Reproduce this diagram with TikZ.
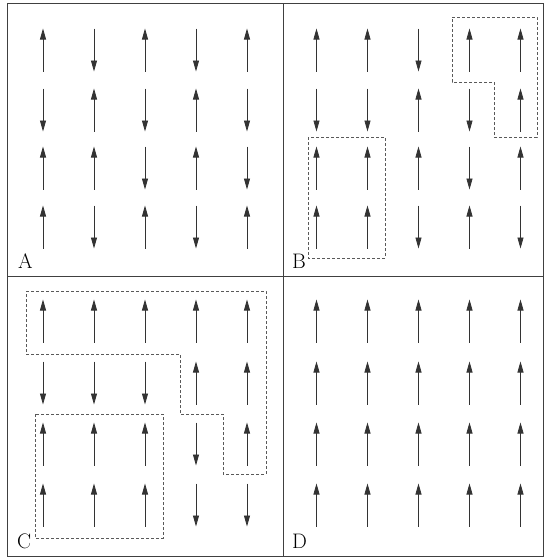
\documentclass[tikz,border=0pt]{standalone}
\usetikzlibrary{arrows.meta}
\newcommand\spinrow[3]{%
  \foreach \d [count=\i from 0] in {#3} {%
    \draw[spinarr] ({#1+\i*51},{#2+\d*21.5}) -- ({#1+\i*51},{#2-\d*21.5});}}
\begin{document}
\begin{tikzpicture}[x=1pt,y=-1pt,
  spinarr/.style={draw=black!80, line width=0.8pt, -{Triangle[length=11pt,width=6pt]}},
  framebox/.style={draw=black!75, line width=0.9pt},
  dombox/.style={draw=black!65, line width=0.8pt, dash pattern=on 3pt off 2pt},
  lab/.style={font=\fontsize{21}{21}\selectfont, inner sep=0pt, anchor=base west}]
\useasboundingbox (0,0) rectangle (545,560);
\fill[white] (0,0) rectangle (545,560);
% frame and dividers
\draw[framebox] (7,3) rectangle (543,556);
\draw[framebox] (283,3) -- (283,556);
\draw[framebox] (7,276) -- (543,276);
% panel A
\spinrow{43}{50}{1,-1,1,-1,1}
\spinrow{43}{110}{-1,1,-1,1,-1}
\spinrow{43}{168}{1,1,-1,1,-1}
\spinrow{43}{227}{1,-1,1,-1,1}
% panel B
\spinrow{316.5}{50}{1,1,-1,1,1}
\spinrow{316.5}{110}{-1,-1,1,-1,1}
\spinrow{316.5}{168}{1,1,1,-1,1}
\spinrow{316.5}{227}{1,1,-1,1,-1}
% panel C
\spinrow{43}{321}{1,1,1,1,1}
\spinrow{43}{383}{-1,-1,-1,1,1}
\spinrow{43}{444}{1,1,1,-1,1}
\spinrow{43}{505}{1,1,1,-1,-1}
% panel D
\spinrow{316.5}{321}{1,1,1,1,1}
\spinrow{316.5}{383}{1,1,1,1,1}
\spinrow{316.5}{444}{1,1,1,1,1}
\spinrow{316.5}{505}{1,1,1,1,1}
% domains
\draw[dombox] (452,17) -- (537,17) -- (537,137) -- (494,137) -- (494,82) -- (452,82) -- cycle;
\draw[dombox] (308,137) rectangle (385,258);
\draw[dombox] (26,291) -- (266,291) -- (266,474) -- (223,474) -- (223,414) -- (180,414) -- (180,354) -- (26,354) -- cycle;
\draw[dombox] (35,414) rectangle (163,538);
% labels
\node[lab] (labA) at (18,268) {A};
\node[lab] (labB) at (292,268) {B};
\node[lab] (labC) at (17,548) {C};
\node[lab] (labD) at (292,548) {D};
\end{tikzpicture}
\end{document}
